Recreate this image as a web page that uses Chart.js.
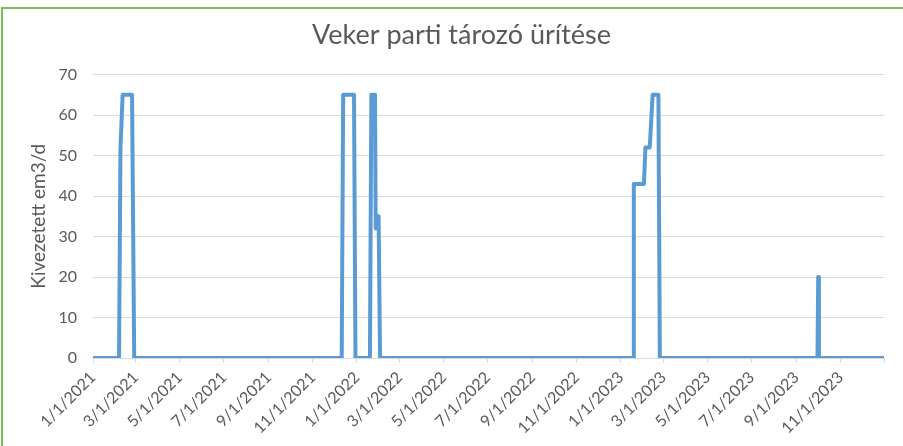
<!DOCTYPE html>
<html>
<head>
<meta charset="utf-8">
<script src="https://cdn.jsdelivr.net/npm/chart.js@4"></script>
<style>
    html, body { margin: 0; padding: 0; background: #fff; }
    #wrap { position: relative; width: 903px; height: 446px; overflow: hidden; }
    #frame { position: absolute; left: 1px; top: 7px; width: 1000px; height: 1000px; border: 2px solid #7dbb57; box-sizing: border-box; }
    #chart { position: absolute; left: 0; top: 0; }
</style>
</head>
<body>
<div id="wrap">
    <div id="frame"></div>
    <canvas id="chart" width="903" height="446"></canvas>
</div>
<script>
// breakpoints of the daily series
const pointDates  = [
    '2021-01-01', '2021-02-06', '2021-02-08', '2021-02-11', '2021-02-24', '2021-02-27',
    '2021-12-11', '2021-12-13', '2021-12-28', '2021-12-30',
    '2022-01-19', '2022-01-21', '2022-01-26', '2022-01-27', '2022-01-29', '2022-01-31', '2022-02-02',
    '2023-01-18', '2023-01-19', '2023-02-02', '2023-02-04', '2023-02-10', '2023-02-14', '2023-02-22', '2023-02-24',
    '2023-09-30', '2023-10-01', '2023-10-02', '2023-12-31'
];
const pointValues = [
    0, 0, 52, 65, 65, 0,
    0, 65, 65, 0,
    0, 65, 65, 32, 35, 35, 0,
    0, 43, 43, 52, 52, 65, 65, 0,
    0, 20, 0, 0
];
const tickLabels  = [
    '1/1/2021', '3/1/2021', '5/1/2021', '7/1/2021', '9/1/2021', '11/1/2021',
    '1/1/2022', '3/1/2022', '5/1/2022', '7/1/2022', '9/1/2022', '11/1/2022',
    '1/1/2023', '3/1/2023', '5/1/2023', '7/1/2023', '9/1/2023', '11/1/2023'
];
const yTicks      = [0, 10, 20, 30, 40, 50, 60, 70];

const dayMs   = 86400000;
const origin  = Date.UTC(2021, 0, 1);
const axisEnd = (Date.UTC(2023, 11, 31) - origin) / dayMs;

const dayOfIso = (s) => {
    const p = s.split('-').map(Number);
    return (Date.UTC(p[0], p[1] - 1, p[2]) - origin) / dayMs;
};
const dayOfUs = (s) => {
    const p = s.split('/').map(Number);
    return (Date.UTC(p[2], p[0] - 1, p[1]) - origin) / dayMs;
};

const points   = pointDates.map((d, i) => ({x: dayOfIso(d), y: pointValues[i]}));
const tickDays = tickLabels.map(dayOfUs);
const labelOf  = {};
tickDays.forEach((d, i) => { labelOf[d] = tickLabels[i]; });

const textColor = '#595959';
const gridColor = '#d9d9d9';
const family    = 'Lato, "Open Sans", sans-serif';

new Chart(document.getElementById('chart').getContext('2d'), {
    type: 'line',
    data: {
        datasets: [{
            data: points,
            borderColor: '#5b9bd5',
            borderWidth: 4,
            pointRadius: 0,
            tension: 0,
            borderJoinStyle: 'round',
            borderCapStyle: 'round'
        }]
    },
    options: {
        responsive: false,
        animation: false,
        // left padding keeps the title centred where the original has it
        layout: { padding: { top: 10, left: 39, right: 19, bottom: 0 } },
        plugins: {
            legend: { display: false },
            tooltip: { enabled: false },
            title: {
                display: true,
                text: 'Veker parti tározó ürítése',
                color: textColor,
                font: { family: family, size: 27, weight: 'normal' },
                padding: { top: 9, bottom: 23.2 }
            }
        },
        scales: {
            x: {
                type: 'linear',
                min: 0,
                max: axisEnd,
                afterFit: (scale) => { scale.height = 88; },
                afterBuildTicks: (scale) => {
                    scale.ticks = tickDays.concat([axisEnd]).map((v) => ({value: v}));
                },
                grid: { drawOnChartArea: false, drawTicks: true, tickLength: 5, color: gridColor },
                border: { color: gridColor },
                ticks: {
                    autoSkip: false,
                    minRotation: 45,
                    maxRotation: 45,
                    padding: 5,
                    color: textColor,
                    font: { family: family, size: 16 },
                    callback: (v) => labelOf[v] || ''
                }
            },
            y: {
                min: 0,
                max: 70,
                afterFit: (scale) => { scale.width = 54; },
                afterBuildTicks: (scale) => {
                    scale.ticks = yTicks.map((v) => ({value: v}));
                },
                grid: { color: gridColor, drawTicks: false },
                border: { display: false },
                ticks: {
                    padding: 16,
                    color: textColor,
                    font: { family: family, size: 16 }
                },
                title: {
                    display: true,
                    text: 'Kivezetett em3/d',
                    color: textColor,
                    font: { family: family, size: 19 },
                    padding: { top: -12, bottom: 0 }
                }
            }
        }
    }
});
</script>
</body>
</html>
